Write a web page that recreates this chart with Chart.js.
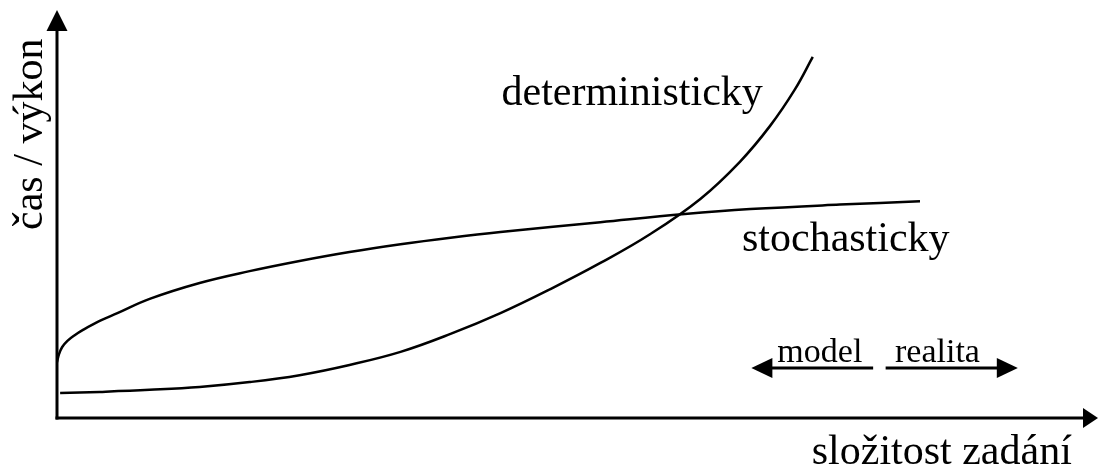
<!DOCTYPE html>
<html>
<head>
<meta charset="utf-8">
<script src="https://cdn.jsdelivr.net/npm/chart.js@4"></script>
<style>
html,body{margin:0;padding:0;background:#fff;}
#c{display:block;}
</style>
</head>
<body>
<canvas id="c" width="1100" height="471"></canvas>
<script>
// ---- data (arbitrary units) ----
const detX = [0.3, 4.1, 8.9, 13.7, 18.5, 23.3, 28.1, 33.0, 37.8, 42.6, 47.4, 52.2, 57.0, 61.8, 65.6, 68.5, 70.9, 72.6];
const detY = [6.1, 6.4, 6.9, 7.6, 8.8, 10.5, 13.0, 16.2, 20.6, 25.7, 31.6, 38.0, 45.1, 53.7, 62.8, 71.6, 80.6, 88.5];
const stoX = [0.0, 0.2, 0.5, 1.0, 1.7, 2.5, 4.1, 5.8, 8.9, 13.7, 18.5, 23.3, 28.1, 33.0, 37.8, 42.6, 52.2, 60.3, 66.6, 75.2, 82.9];
const stoY = [13.7, 15.7, 17.4, 18.9, 20.3, 21.6, 23.8, 25.7, 29.2, 33.1, 36.0, 38.5, 40.7, 42.6, 44.2, 45.6, 48.0, 50.0, 51.2, 52.3, 53.1];
const seriesNames = ['deterministicky', 'stochasticky'];
const axisTitles = ['složitost zadání', 'čas / výkon'];
const arrowLabels = ['model', 'realita'];

// ---- placement of texts / decorations (data units) ----
const layoutCfg = {
  seriesLabelPos: [[42.7, 76.7], [65.8, 40.9]],
  xTitlePos: [72.5, -11.3],
  yTitlePos: [-1.47, 46.1],
  arrowLabelPos: [[69.2, 13.7], [80.5, 13.7]],
  arrows: [[78.4, 66.7, 12.25], [79.6, 92.3, 12.25]]
};

function toPts(xs, ys){ return xs.map((x,i)=>({x:x, y:ys[i]})); }

const FONT = '"Liberation Serif", "Times New Roman", serif';

function arrowHead(ctx, tipX, tipY, dx, dy, len, half){
  const bx = tipX - dx*len, by = tipY - dy*len;
  const px = -dy, py = dx;
  ctx.beginPath();
  ctx.moveTo(tipX, tipY);
  ctx.lineTo(bx + px*half, by + py*half);
  ctx.lineTo(bx - px*half, by - py*half);
  ctx.closePath();
  ctx.fill();
}

const decor = {
  id: 'decor',
  beforeDatasetsDraw(chart){
    const ctx = chart.ctx, xs = chart.scales.x, ys = chart.scales.y;
    const x0 = xs.getPixelForValue(0), y0 = ys.getPixelForValue(0);
    const xMax = xs.getPixelForValue(xs.max), yMax = ys.getPixelForValue(ys.max);
    ctx.save();
    ctx.strokeStyle = '#000'; ctx.fillStyle = '#000';
    ctx.lineWidth = 3; ctx.lineCap = 'butt';
    ctx.beginPath(); ctx.moveTo(x0, y0 + 1.5); ctx.lineTo(x0, yMax + 18); ctx.stroke();
    arrowHead(ctx, x0, yMax, 0, -1, 21, 10.5);
    ctx.beginPath(); ctx.moveTo(x0 - 1.5, y0); ctx.lineTo(xMax - 12, y0); ctx.stroke();
    arrowHead(ctx, xMax, y0, 1, 0, 15, 10);
    ctx.restore();
  },
  afterDraw(chart){
    const ctx = chart.ctx, xs = chart.scales.x, ys = chart.scales.y;
    const P = (v)=>[xs.getPixelForValue(v[0]), ys.getPixelForValue(v[1])];
    ctx.save();
    ctx.fillStyle = '#000'; ctx.strokeStyle = '#000';
    ctx.textBaseline = 'alphabetic'; ctx.textAlign = 'left';
    ctx.font = '42px ' + FONT;
    seriesNames.forEach((t,i)=>{ const p = P(layoutCfg.seriesLabelPos[i]); ctx.fillText(t, p[0], p[1]); });
    let p = P(layoutCfg.xTitlePos); ctx.fillText(axisTitles[0], p[0], p[1]);
    p = P(layoutCfg.yTitlePos);
    ctx.save(); ctx.translate(p[0], p[1]); ctx.rotate(-Math.PI/2); ctx.fillText(axisTitles[1], 0, 0); ctx.restore();
    ctx.font = '34px ' + FONT;
    arrowLabels.forEach((t,i)=>{ const q = P(layoutCfg.arrowLabelPos[i]); ctx.fillText(t, q[0], q[1]); });
    ctx.lineWidth = 3;
    layoutCfg.arrows.forEach(a=>{
      const sx = xs.getPixelForValue(a[0]), tx = xs.getPixelForValue(a[1]), y = ys.getPixelForValue(a[2]);
      const dir = Math.sign(tx - sx);
      ctx.beginPath(); ctx.moveTo(sx, y); ctx.lineTo(tx - dir*18, y); ctx.stroke();
      arrowHead(ctx, tx, y, dir, 0, 21, 10);
    });
    ctx.restore();
  }
};

new Chart(document.getElementById('c'), {
  type: 'scatter',
  data: {
    datasets: [
      { label: seriesNames[0], data: toPts(detX, detY), showLine: true, borderColor: '#000', borderWidth: 2.5, pointRadius: 0, tension: 0.4, fill: false },
      { label: seriesNames[1], data: toPts(stoX, stoY), showLine: true, borderColor: '#000', borderWidth: 2.5, pointRadius: 0, tension: 0.4, fill: false }
    ]
  },
  options: {
    responsive: false,
    devicePixelRatio: 1,
    animation: false,
    layout: { padding: { left: 57, right: 2, top: 10, bottom: 53 } },
    plugins: { legend: { display: false }, tooltip: { enabled: false } },
    scales: {
      x: { type: 'linear', min: 0, max: 100, display: false },
      y: { type: 'linear', min: 0, max: 100, display: false }
    }
  },
  plugins: [decor]
});
</script>
</body>
</html>
